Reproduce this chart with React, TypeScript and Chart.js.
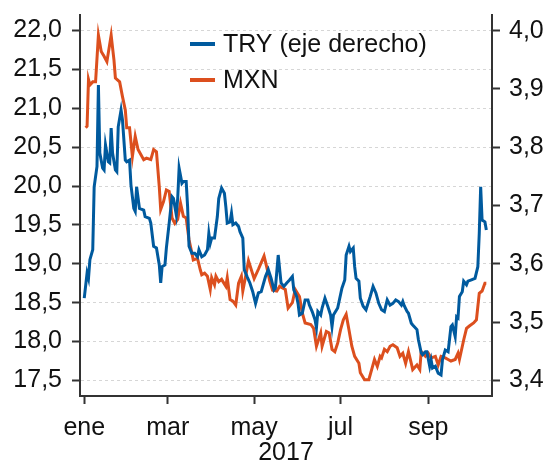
import React, { useEffect, useRef } from 'react';
import { Chart, registerables } from 'chart.js';

Chart.register(...registerables);

// Day of year 2017 (0 = 1 ene)
const mxnDays = [1,2,3,4,6,8,10,12,14,16,19,21,22,25,27,29,30,32,34,36,38,42,44,47,49,51,53,54,56,58,60,62,64,66,68,70,72,74,76,77,80,82,83,85,87,89,90,92,93,95,97,100,101,103,105,107,109,111,112,114,116,120,123,127,129,131,133,136,138,142,144,147,149,152,154,156,160,162,164,167,168,171,173,175,177,179,181,183,185,187,189,191,194,195,198,201,203,205,207,209,210,212,214,216,218,221,223,225,227,229,231,232,235,237,238,241,243,245,248,250,252,255,257,259,262,264,265,268,270,272,275,277,279,281,283,284];
const mxnValues = [20.75,20.77,21.37,21.30,21.34,21.34,21.94,21.73,21.67,21.60,21.94,21.62,21.39,21.34,21.15,20.98,20.75,20.75,20.38,20.64,20.47,20.34,20.36,20.34,20.47,20.44,19.99,19.70,19.80,19.95,19.93,19.59,19.52,19.57,19.78,19.61,19.59,19.31,19.14,19.05,19.07,18.92,18.86,18.88,18.84,18.67,18.82,18.73,18.84,18.77,18.80,18.71,18.82,18.54,18.52,18.47,18.75,18.84,18.65,18.84,19.04,18.81,18.93,19.10,18.95,18.78,18.66,18.65,18.71,18.67,18.43,18.50,18.67,18.58,18.37,18.24,18.22,18.17,17.94,18.11,17.94,18.13,18.11,17.90,17.87,17.98,18.15,18.28,18.35,18.15,17.94,17.81,17.72,17.60,17.51,17.51,17.64,17.77,17.68,17.81,17.79,17.90,17.87,17.94,17.96,17.92,17.81,17.85,17.72,17.87,17.72,17.64,17.70,17.64,17.87,17.81,17.85,17.79,17.81,17.70,17.81,17.79,17.77,17.75,17.77,17.85,17.77,18.02,18.17,18.20,18.24,18.28,18.62,18.65,18.75,18.75];

const tryDays = [0,2,3,4,6,7,9,10,11,13,14,15,17,18,19,20,22,23,24,26,27,29,30,32,33,35,36,37,39,42,43,46,47,49,51,53,54,55,57,58,60,62,63,65,66,67,69,70,72,73,74,76,78,80,81,83,85,87,88,89,90,92,94,95,97,99,100,101,103,104,105,107,109,110,112,113,115,117,119,121,123,125,128,130,132,134,135,137,139,141,143,145,147,148,150,151,152,154,156,158,159,161,163,164,165,167,168,170,172,174,175,176,179,182,184,185,187,188,190,191,192,194,195,197,199,202,204,206,208,210,212,214,216,218,220,222,224,225,226,228,229,231,232,235,236,238,239,241,242,244,245,246,248,250,252,253,255,257,258,259,260,262,263,264,265,267,268,270,271,273,276,278,279,280,281,283,284];
const tryValues = [3.541,3.584,3.575,3.607,3.624,3.732,3.767,3.907,3.790,3.764,3.761,3.804,3.775,3.773,3.833,3.790,3.761,3.758,3.835,3.864,3.847,3.778,3.775,3.778,3.735,3.695,3.690,3.732,3.695,3.692,3.681,3.678,3.670,3.630,3.627,3.598,3.567,3.595,3.598,3.627,3.670,3.715,3.712,3.684,3.712,3.764,3.738,3.741,3.741,3.698,3.630,3.618,3.618,3.612,3.624,3.612,3.615,3.624,3.652,3.635,3.644,3.644,3.681,3.712,3.730,3.721,3.698,3.670,3.672,3.687,3.667,3.670,3.664,3.655,3.644,3.590,3.578,3.567,3.552,3.532,3.550,3.552,3.578,3.590,3.575,3.555,3.558,3.615,3.567,3.561,3.567,3.572,3.578,3.555,3.544,3.532,3.512,3.515,3.538,3.538,3.529,3.518,3.504,3.490,3.518,3.512,3.524,3.541,3.527,3.512,3.492,3.512,3.524,3.558,3.572,3.615,3.630,3.621,3.627,3.595,3.575,3.570,3.541,3.527,3.521,3.544,3.561,3.550,3.532,3.521,3.518,3.538,3.529,3.532,3.538,3.535,3.529,3.535,3.528,3.518,3.515,3.498,3.495,3.487,3.470,3.447,3.444,3.449,3.449,3.424,3.435,3.421,3.424,3.412,3.409,3.435,3.452,3.449,3.470,3.492,3.495,3.475,3.509,3.507,3.544,3.552,3.570,3.564,3.570,3.572,3.575,3.595,3.652,3.732,3.675,3.672,3.658];

const monthTickDays = [0, 59, 120, 181, 243];
const monthTickLabels = ['ene', 'mar', 'may', 'jul', 'sep'];
const leftTickValues = [17.5, 18.0, 18.5, 19.0, 19.5, 20.0, 20.5, 21.0, 21.5, 22.0];
const rightTickValues = [3.4, 3.5, 3.6, 3.7, 3.8, 3.9, 4.0];
const yearLabel = '2017';
const seriesLabels = ['TRY (eje derecho)', 'MXN'];

const FONT = '"Liberation Sans", Arial, Helvetica, sans-serif';
const AXIS = '#333333';
const TEXT = '#111111';
const BLUE = '#005a9e';
const ORANGE = '#dc4f1e';

const fmt = (v: number) => Number(v).toFixed(1).replace('.', ',');

const legendPlugin = {
  id: 'insetLegend',
  afterDatasetsDraw(chart: any) {
    const ctx = chart.ctx;
    ctx.save();
    ctx.font = `25px ${FONT}`;
    ctx.textBaseline = 'middle';
    ctx.textAlign = 'left';
    chart.data.datasets.forEach((ds: any, i: number) => {
      const y = 44 + i * 36;
      ctx.strokeStyle = ds.borderColor;
      ctx.lineWidth = 4;
      ctx.beginPath();
      ctx.moveTo(190, y);
      ctx.lineTo(215, y);
      ctx.stroke();
      ctx.fillStyle = TEXT;
      ctx.fillText(ds.label, 223, y + 1);
    });
    ctx.restore();
  },
};

export default function App() {
  const ref = useRef<HTMLCanvasElement | null>(null);

  useEffect(() => {
    if (!ref.current) return;
    const tickFont = { family: FONT, size: 25 };
    const fitVertical = (w: number) => (s: any) => {
      s.width = w;
      s.paddingTop = 0;
      s.paddingBottom = 0;
    };
    const chart = new Chart(ref.current, {
      type: 'line',
      data: {
        datasets: [
          {
            label: seriesLabels[0],
            data: tryDays.map((d, i) => ({ x: d, y: tryValues[i] })),
            borderColor: BLUE,
            borderWidth: 3,
            pointRadius: 0,
            tension: 0,
            yAxisID: 'y1',
          },
          {
            label: seriesLabels[1],
            data: mxnDays.map((d, i) => ({ x: d, y: mxnValues[i] })),
            borderColor: ORANGE,
            borderWidth: 3,
            pointRadius: 0,
            tension: 0,
            yAxisID: 'y',
          },
        ],
      },
      options: {
        animation: false,
        responsive: true,
        maintainAspectRatio: false,
        devicePixelRatio: 1,
        layout: { padding: { top: 15, left: 0, right: 0, bottom: 0 } },
        plugins: { legend: { display: false }, tooltip: { enabled: false } },
        scales: {
          x: {
            type: 'linear',
            min: -3,
            max: 288,
            afterBuildTicks: (s: any) => { s.ticks = monthTickDays.map((v) => ({ value: v })); },
            afterFit: (s: any) => { s.height = 72; s.paddingLeft = 0; s.paddingRight = 0; },
            ticks: {
              font: tickFont,
              color: TEXT,
              padding: 9,
              maxRotation: 0,
              autoSkip: false,
              callback: (v: any) => monthTickLabels[monthTickDays.indexOf(Number(v))] ?? '',
            },
            grid: { drawOnChartArea: false, drawTicks: true, tickLength: 8, tickColor: AXIS, tickWidth: 2 },
            border: { display: true, color: AXIS, width: 2 },
            title: { display: true, text: yearLabel, font: tickFont, color: TEXT, padding: { top: 0, bottom: 0 } },
          },
          y: {
            type: 'linear',
            position: 'left',
            min: 17.3,
            max: 22.2,
            afterBuildTicks: (s: any) => { s.ticks = leftTickValues.map((v) => ({ value: v })); },
            afterFit: fitVertical(80),
            ticks: { font: tickFont, color: TEXT, padding: 10, callback: (v: any) => fmt(v) },
            grid: { color: '#d6d6d6', lineWidth: 1, drawTicks: true, tickLength: 8, tickColor: AXIS, tickWidth: 2 },
            border: { display: true, color: AXIS, width: 2, dash: [3, 3] },
          },
          y1: {
            type: 'linear',
            position: 'right',
            min: 3.373,
            max: 4.027,
            afterBuildTicks: (s: any) => { s.ticks = rightTickValues.map((v) => ({ value: v })); },
            afterFit: fitVertical(55),
            ticks: { font: tickFont, color: TEXT, padding: 9, callback: (v: any) => fmt(v) },
            grid: { drawOnChartArea: false, drawTicks: true, tickLength: 8, tickColor: AXIS, tickWidth: 2 },
            border: { display: true, color: AXIS, width: 2 },
          },
        },
      },
      plugins: [legendPlugin],
    } as any);
    return () => chart.destroy();
  }, []);

  return (
    <div style={{ position: 'absolute', left: 0, top: 0, width: 547, height: 468 }}>
      <canvas ref={ref} />
    </div>
  );
}
